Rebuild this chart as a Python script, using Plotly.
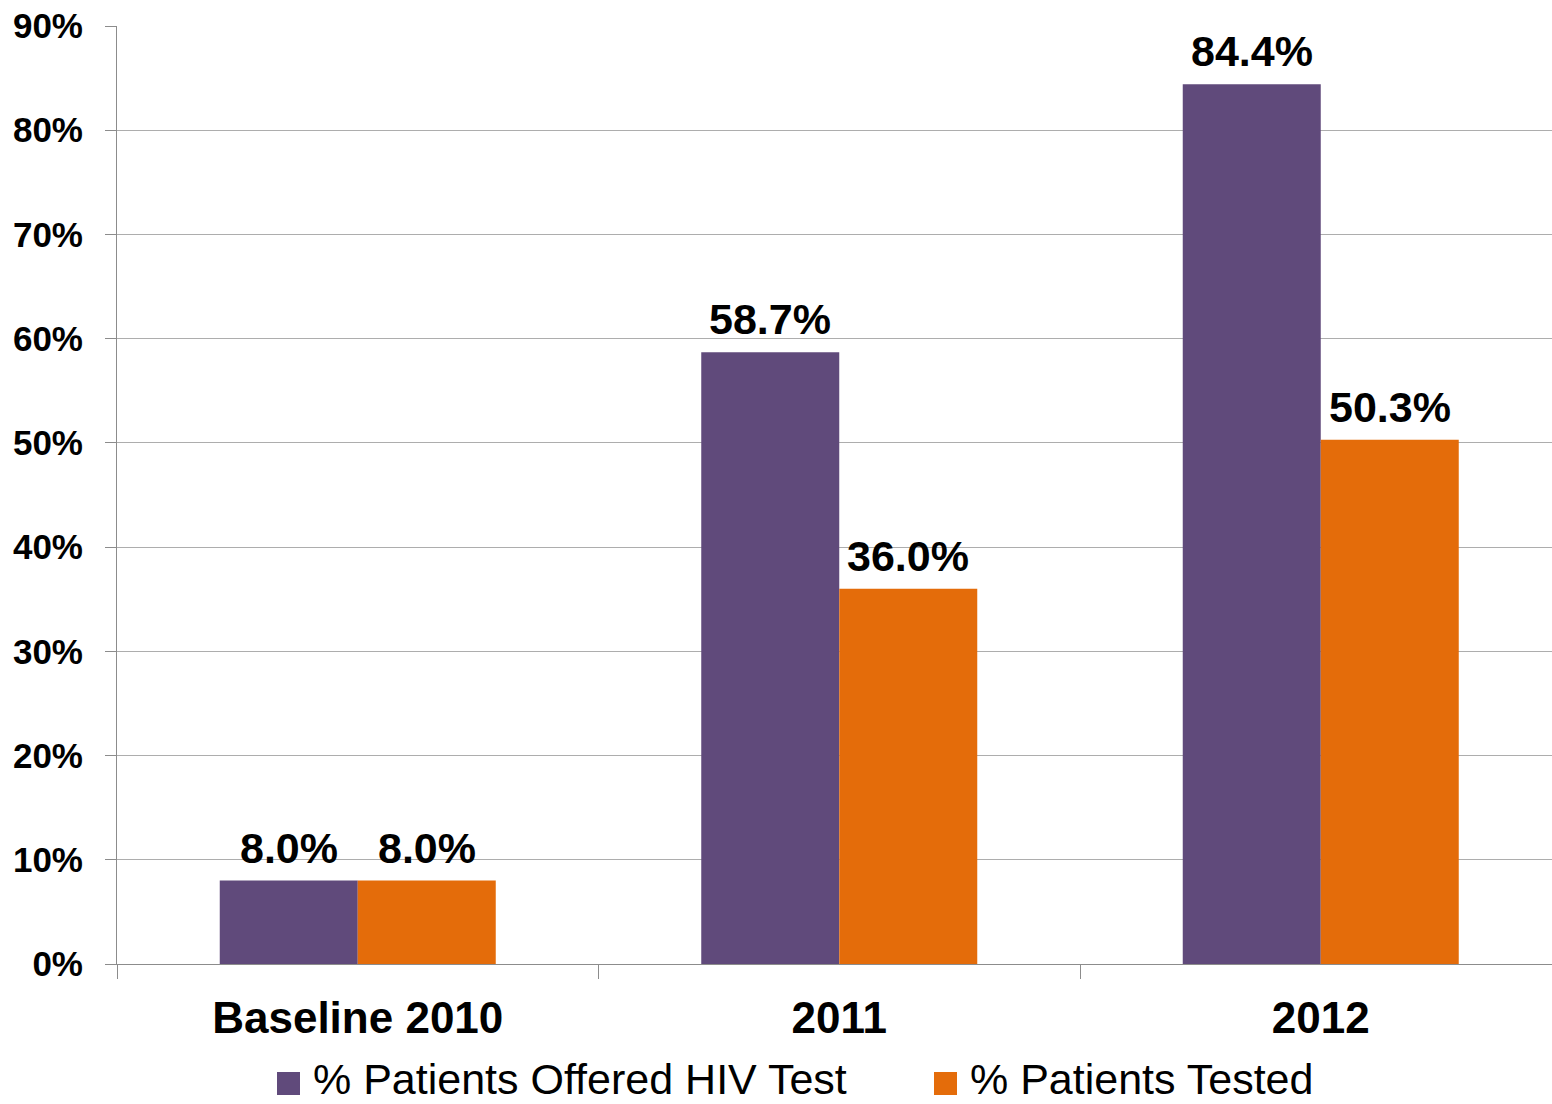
import plotly.graph_objects as go

categories = ["Baseline 2010", "2011", "2012"]
offered = [8.0, 58.7, 84.4]
tested = [8.0, 36.0, 50.3]
series_names = ["% Patients Offered HIV Test", "% Patients Tested"]
y_ticks = [0, 10, 20, 30, 40, 50, 60, 70, 80, 90]
y_tick_labels = [f"{v}%" for v in y_ticks]

PURPLE = "#604A7B"
ORANGE = "#E46C0A"
FONT = "Liberation Sans, Arial, sans-serif"

W, H = 1552, 1104
ML, MR, MT, MB = 117, 0, 26, 140
PW, PH = W - ML - MR, H - MT - MB
CAT_PX = 481.5          # pixel width of one category slot
BAR_PX = 138            # pixel width of one bar
BARGAP = 1 - 2 * BAR_PX / CAT_PX

fig = go.Figure()
series = [(series_names[0], offered, PURPLE, -1), (series_names[1], tested, ORANGE, 1)]
for name, vals, color, side in series:
    fig.add_trace(go.Bar(
        name=name, x=categories, y=vals, marker=dict(color=color, line=dict(width=0)),
        showlegend=False,
    ))
    for i, v in enumerate(vals):
        # category axis position given as index so numeric-looking labels are not misread
        fig.add_annotation(
            x=i, y=v, xref="x", yref="y", text=f"<b>{v:.1f}%</b>", showarrow=False,
            xanchor="center", yanchor="bottom", xshift=side * BAR_PX / 2, yshift=7,
            font=dict(family=FONT, size=43, color="black"),
        )

# legend (drawn to match the reference's large square swatches)
legend_items = [(series_names[0], PURPLE, 277, 312), (series_names[1], ORANGE, 934, 969)]
leg_cy = 1083.5
sw = 23
def px_x(p):
    return (p - ML) / PW
def px_y(p):
    return (H - MB - p) / PH
for name, color, sx, tx in legend_items:
    fig.add_shape(type="rect", xref="paper", yref="paper",
                  x0=px_x(sx), x1=px_x(sx + sw), y0=px_y(leg_cy + sw / 2), y1=px_y(leg_cy - sw / 2),
                  fillcolor=color, line=dict(width=0))
    fig.add_annotation(x=px_x(tx), y=px_y(H), xref="paper", yref="paper", text=name,
                       showarrow=False, xanchor="left", yanchor="bottom", borderpad=0,
                       font=dict(family=FONT, size=43, color="black"))

fig.update_layout(
    width=W, height=H,
    margin=dict(l=ML, r=MR, t=MT, b=MB),
    paper_bgcolor="white", plot_bgcolor="white",
    barmode="group", bargap=BARGAP, bargroupgap=0,
    font=dict(family=FONT, color="black"),
    showlegend=False,
)
fig.update_yaxes(
    range=[0, 90], tickvals=y_ticks, ticktext=[f"<b>{t}</b>" for t in y_tick_labels],
    tickfont=dict(family=FONT, size=35, color="black"),
    showgrid=True, gridcolor="#ADADAD", gridwidth=1,
    showline=True, linecolor="#8C8C8C", linewidth=1,
    ticks="outside", ticklen=11, tickcolor="#8C8C8C", zeroline=False,
    ticklabelstandoff=15,
)
fig.update_xaxes(
    range=[-0.5, -0.5 + PW / CAT_PX],
    tickvals=categories, ticktext=[f"<b>{c}</b>" for c in categories],
    tickfont=dict(family=FONT, size=44, color="black"),
    showline=True, linecolor="#8C8C8C", linewidth=1,
    ticks="outside", ticklen=14, tickcolor="#8C8C8C", tickson="boundaries",
    showgrid=False, ticklabelstandoff=15,
)

fig.write_html("out.html")
